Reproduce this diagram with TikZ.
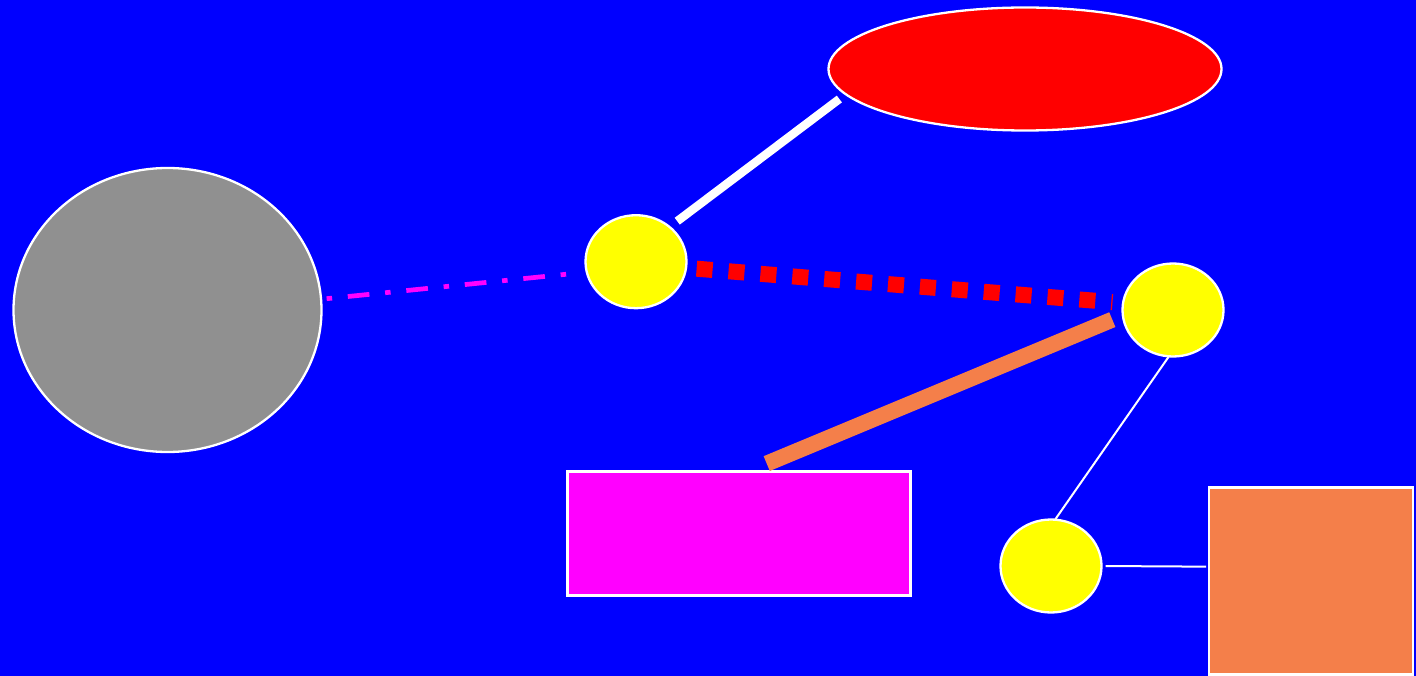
\documentclass[tikz,border=0pt]{standalone}
\usetikzlibrary{shapes.geometric}
\definecolor{bg}{HTML}{0000FF}
\definecolor{grayfill}{HTML}{909090}
\definecolor{coral}{HTML}{F47F4A}
\definecolor{yel}{HTML}{FFFF00}
\definecolor{mag}{HTML}{FF00FF}
\definecolor{redc}{HTML}{FF0000}
\begin{document}
\begin{tikzpicture}[x=1pt,y=-1pt,
  base/.style={inner sep=0pt, outer sep=0pt, draw=white, line width=2.3pt},
  oval/.style={base, ellipse},
  box/.style={base, rectangle},
  dot/.style={oval, fill=yel, minimum width=101pt, minimum height=93pt}]
\fill[bg] (0,0) rectangle (1416,676);
\useasboundingbox (0,0) rectangle (1416,676);
% nodes
\node[oval, fill=grayfill, minimum width=308pt, minimum height=284pt] (G) at (167.5,310) {};
\node[oval, fill=redc, minimum width=393pt, minimum height=123pt] (R) at (1025,69) {};
\node[dot] (A) at (636,261.7) {};
\node[dot] (B) at (1173,310) {};
\node[dot] (C) at (1051,566) {};
\node[box, fill=mag, minimum width=343pt, minimum height=124pt] (M) at (739,533.5) {};
\node[box, fill=coral, minimum width=204pt, minimum height=187pt] (O) at (1311,581) {};
% connectors
\draw[white, line width=8.5pt, shorten <=9.6pt, shorten >=8pt] (A.46) -- (R.188);
\draw[mag, line width=4.7pt, dash pattern=on 5.5pt off 15.8pt on 21.7pt off 15.8pt, shorten <=5.6pt, shorten >=20pt] (G.4.7) -- (A.192.8);
\draw[redc, line width=16pt, dash pattern=on 16pt off 16pt, shorten <=10.6pt, shorten >=10.6pt] (A.-7.6) -- (B.172.4);
\draw[coral, line width=16pt, shorten <=11.4pt, shorten >=20.6pt] (B.186.3) -- (M.82.7);
\draw[white, line width=2pt] (B.265) -- (C.85);
\draw[white, line width=2pt, shorten <=4pt, shorten >=3pt] (C.east) -- (O.172.2);
\end{tikzpicture}
\end{document}
